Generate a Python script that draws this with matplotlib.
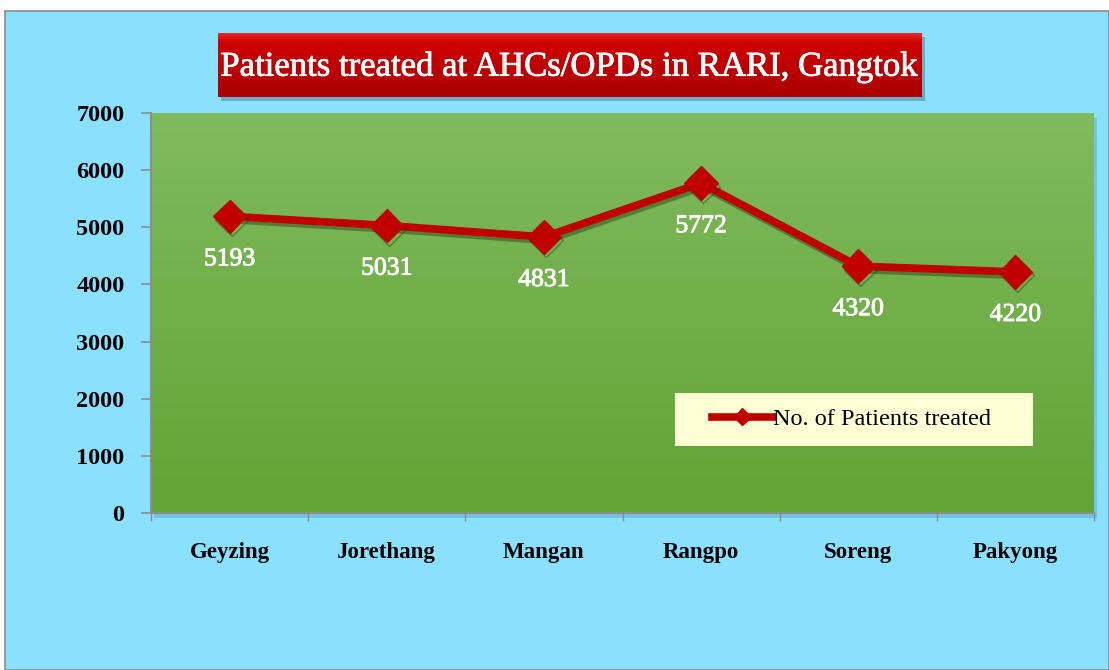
import numpy as np
import matplotlib
matplotlib.use('Agg')
import matplotlib.pyplot as plt
from matplotlib.patches import Rectangle
import matplotlib.patheffects as pe

# Data
centres = ['Geyzing', 'Jorethang', 'Mangan', 'Rangpo', 'Soreng', 'Pakyong']
patients = [5193, 5031, 4831, 5772, 4320, 4220]
y_ticks = [0, 1000, 2000, 3000, 4000, 5000, 6000, 7000]
title = 'Patients treated at AHCs/OPDs in RARI, Gangtok'
series_label = 'No. of Patients treated'

W, H = 1109, 670
serif = ['Liberation Serif', 'DejaVu Serif']

fig = plt.figure(figsize=(W / 100, H / 100), dpi=100, facecolor='white')

# light blue chart background with thin grey border
fig.patches.append(Rectangle((5 / W, 0), (W - 5) / W, (H - 11) / H, transform=fig.transFigure,
                             facecolor='#8AE0FF', edgecolor='#8c8c8c', linewidth=1.2, zorder=-10))

# plot area
left, right, top, bottom = 151, 1094, 113, 513
ax = fig.add_axes([left / W, (H - bottom) / H, (right - left) / W, (bottom - top) / H])
ax.set_facecolor('none')

# shadow under the plot area
fig.patches.append(Rectangle(((left + 3) / W, (H - bottom - 5) / H), (right - left) / W, (bottom - top) / H,
                             transform=fig.transFigure, facecolor='#4a8cab', alpha=0.35,
                             edgecolor='none', zorder=-5))

# green vertical gradient
grad = np.linspace(0, 1, 256).reshape(-1, 1)
top_c = np.array([128, 186, 94]) / 255
bot_c = np.array([98, 164, 53]) / 255
img = top_c[None, None, :] * (1 - grad[:, :, None]) + bot_c[None, None, :] * grad[:, :, None]
ax.imshow(img, extent=[0, 1, 0, 1], transform=ax.transAxes, aspect='auto', zorder=0)

x = np.arange(len(centres))
shadow = [pe.SimpleLineShadow(offset=(1.5, -2.5), shadow_color='#1f3d10', alpha=0.45), pe.Normal()]
line, = ax.plot(x, patients, color='#C00000', linewidth=5.5, marker='D', markersize=17,
                solid_joinstyle='round', zorder=3, path_effects=shadow)

# data labels under each point
for xi, v in zip(x, patients):
    ax.annotate(str(v), (xi, v), xytext=(0, -31), textcoords='offset points',
                ha='center', va='center', color='white', fontsize=18.5,
                family=serif, zorder=4,
                path_effects=[pe.withStroke(linewidth=0.7, foreground='white')])

ax.set_xlim(-0.5, len(centres) - 0.5)
ax.set_ylim(0, 7000)
ax.set_yticks(y_ticks)
ax.set_yticklabels([str(t) for t in y_ticks], family=serif, fontweight='bold', fontsize=17.5)
ax.set_xticks(x)
ax.set_xticklabels(centres, family=serif, fontweight='bold', fontsize=16.5)
ax.set_xticks(np.arange(len(centres) + 1) - 0.5, minor=True)
ax.tick_params(axis='y', length=7, color='#8c8c8c', width=1.2, pad=12)
ax.tick_params(axis='x', which='major', length=0, pad=21)
ax.tick_params(axis='x', which='minor', length=6, color='#8c8c8c', width=1.0, direction='out')
for s in ['top', 'right']:
    ax.spines[s].set_visible(False)
for s in ['left', 'bottom']:
    ax.spines[s].set_color('#8c8c8c')
    ax.spines[s].set_linewidth(1.5)

# legend: light yellow box, entry anchored inside it
lx0, lx1, ly0, ly1 = 675, 1033, 393, 446
ax.add_patch(Rectangle((lx0 / W, (H - ly1) / H), (lx1 - lx0) / W, (ly1 - ly0) / H,
                       transform=fig.transFigure, facecolor='#FFFFD5',
                       edgecolor='none', zorder=5))
leg = ax.legend([line], [series_label], loc='center left',
                bbox_to_anchor=(712 / W, (H - 419) / H), bbox_transform=fig.transFigure,
                frameon=False, handlelength=2.5, handletextpad=0.0, borderaxespad=0,
                borderpad=0, prop={'family': serif, 'size': 17.5}, markerscale=0.5)
for h in leg.legend_handles:
    h.set_path_effects([pe.Normal()])
leg.set_zorder(6)

# title box with red gradient and shadow
tl, tr, tt, tb = 218, 922, 33, 97
fig.patches.append(Rectangle(((tl + 3) / W, (H - tb - 4) / H), (tr - tl) / W, (tb - tt) / H,
                             transform=fig.transFigure, facecolor='#3a5f70', alpha=0.4,
                             edgecolor='none', zorder=-5))
tax = fig.add_axes([tl / W, (H - tb) / H, (tr - tl) / W, (tb - tt) / H])
tax.axis('off')
rgrad = np.linspace(0, 1, 256).reshape(-1, 1)
r_top = np.array([236, 40, 40]) / 255
r_mid = np.array([206, 0, 0]) / 255
r_bot = np.array([170, 0, 0]) / 255
rimg = np.where(rgrad[:, :, None] < 0.15,
                r_top + (r_mid - r_top) * (rgrad[:, :, None] / 0.15),
                r_mid + (r_bot - r_mid) * ((rgrad[:, :, None] - 0.15) / 0.85))
tax.imshow(rimg, extent=[0, 1, 0, 1], aspect='auto')
tax.set_xlim(0, 1)
tax.set_ylim(0, 1)
tax.text(0.5, 0.47, title, ha='center', va='center', color='white', fontsize=25,
         family=serif, path_effects=[pe.withStroke(linewidth=0.6, foreground='white')])

fig.savefig('out.png', dpi=100, facecolor=fig.get_facecolor())
